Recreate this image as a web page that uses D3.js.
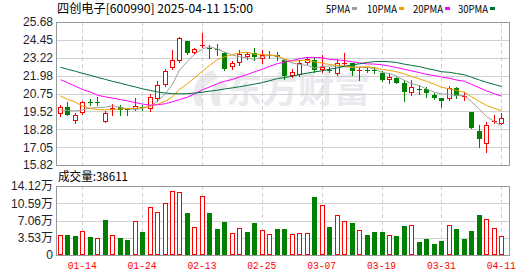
<!DOCTYPE html>
<html>
<head>
<meta charset="utf-8">
<script src="https://cdn.jsdelivr.net/npm/d3@7"></script>
<style>
  html, body { margin: 0; padding: 0; background: #fff; }
  svg { display: block; }
  text { font-family: "Liberation Sans", Arial, "Noto Sans CJK SC", sans-serif; }
</style>
</head>
<body>
<svg id="chart" width="530" height="276"></svg>
<script>
/* ---------- data ---------- */
const dates = ["01-09","01-10","01-13","01-14","01-15","01-16","01-17","01-20","01-21","01-22",
  "01-23","01-24","01-27","02-05","02-06","02-07","02-10","02-11","02-12","02-13",
  "02-14","02-17","02-18","02-19","02-20","02-21","02-24","02-25","02-26","02-27",
  "02-28","03-03","03-04","03-05","03-06","03-07","03-10","03-11","03-12","03-13",
  "03-14","03-17","03-18","03-19","03-20","03-21","03-24","03-25","03-26","03-27",
  "03-28","03-31","04-01","04-02","04-03","04-07","04-08","04-09","04-10","04-11"];

const open = [19.34,19.85,18.85,19.43,20.16,20.17,18.81,19.66,19.84,19.65,
  19.70,19.80,19.70,20.35,21.32,22.51,23.01,24.35,23.52,24.03,
  23.90,23.80,23.54,22.60,22.87,23.29,23.54,23.15,23.35,23.40,
  23.08,21.98,22.05,22.87,23.06,22.40,22.40,22.10,22.78,22.87,
  22.32,22.40,22.38,22.19,21.68,21.80,21.45,20.76,21.05,21.05,
  20.65,20.42,20.35,21.11,20.52,19.47,18.18,17.25,18.80,18.63];
const high = [19.96,20.15,19.39,20.21,20.39,20.49,19.53,20.00,19.94,19.75,
  20.45,19.95,20.75,21.59,22.46,23.75,24.68,24.39,23.90,24.92,
  24.07,24.16,23.61,23.01,23.75,23.61,23.89,23.75,23.66,23.61,
  23.10,22.46,23.03,23.30,23.28,23.40,22.55,23.10,23.52,22.87,
  22.55,22.55,22.60,22.30,22.15,21.91,21.68,21.68,21.34,21.18,
  20.80,20.45,21.25,21.18,20.88,19.50,18.58,18.76,19.27,19.43];
const low = [19.20,19.25,18.74,19.34,19.97,19.94,18.81,19.30,19.25,19.25,
  19.63,19.60,19.55,20.25,21.25,22.46,22.95,23.47,23.47,23.95,
  23.20,23.38,22.40,22.42,22.74,23.15,23.08,22.87,23.20,23.05,
  21.77,21.90,21.95,22.78,22.25,22.25,22.22,22.03,22.72,22.03,
  21.68,22.25,22.15,21.60,21.50,21.45,20.25,20.65,20.72,20.49,
  20.35,19.80,20.30,20.42,20.30,18.38,17.04,16.70,18.70,18.63];
const close = [19.84,19.30,19.27,20.14,20.10,20.13,19.39,19.76,19.61,19.58,
  19.92,19.76,20.49,21.32,22.32,23.08,24.58,23.54,23.80,24.10,
  23.86,23.76,22.46,22.83,23.47,23.44,23.29,23.38,23.40,23.30,
  21.94,22.23,22.86,23.10,22.37,22.55,22.36,22.83,22.85,22.32,
  22.37,22.35,22.30,21.68,21.91,21.50,20.88,21.18,20.96,20.76,
  20.42,20.25,21.11,20.60,20.56,18.40,17.61,18.58,18.85,19.04];
const volume = [40300,40000,38200,48500,36200,35400,71600,40300,34800,30700,
  68900,47100,97600,87400,105800,130300,128300,85900,56700,120700,
  85900,53200,67500,44400,54600,47100,65500,50500,42400,53200,
  53200,42400,44400,44400,118700,102300,57300,81200,68900,65500,
  50500,40900,47100,47100,40300,38900,59300,60800,26600,32100,
  22500,28600,60800,52600,32100,48500,81800,73000,54600,38611];

const ma5 = [19.62,19.58,19.55,19.62,19.74,19.79,19.81,19.91,19.80,19.69,
  19.65,19.73,19.87,20.21,20.76,21.39,22.36,22.97,23.46,23.82,
  23.98,23.81,23.60,23.40,23.28,23.20,23.10,23.29,23.40,23.37,
  23.06,22.85,22.75,22.69,22.50,22.62,22.65,22.64,22.59,22.58,
  22.55,22.54,22.44,22.20,22.12,21.95,21.65,21.43,21.29,21.06,
  20.84,20.71,20.70,20.62,20.60,20.19,19.66,19.16,18.81,18.50];
const ma10 = [20.58,20.35,20.15,19.88,19.72,19.64,19.62,19.65,19.68,19.71,
  19.72,19.77,19.89,20.01,20.23,20.52,21.04,21.42,21.84,22.29,
  22.69,23.09,23.28,23.43,23.55,23.59,23.46,23.44,23.40,23.32,
  23.13,22.98,23.02,23.04,22.93,22.84,22.75,22.69,22.64,22.54,
  22.58,22.60,22.54,22.40,22.35,22.25,22.10,21.93,21.75,21.59,
  21.39,21.18,21.07,20.96,20.83,20.52,20.19,19.93,19.72,19.55];
const ma20 = [21.70,21.50,21.25,21.02,20.85,20.63,20.52,20.43,20.33,20.24,
  20.12,20.02,19.95,19.97,20.05,20.18,20.33,20.50,20.72,21.00,
  21.20,21.43,21.59,21.72,21.89,22.06,22.25,22.43,22.62,22.81,
  22.91,23.03,23.15,23.24,23.24,23.21,23.10,23.07,23.02,22.93,
  22.86,22.79,22.78,22.72,22.64,22.54,22.42,22.31,22.19,22.07,
  21.99,21.89,21.80,21.68,21.59,21.38,21.14,20.93,20.73,20.57];
const ma30 = [22.56,22.42,22.28,22.14,22.00,21.86,21.72,21.59,21.46,21.33,
  21.20,21.07,20.96,20.86,20.78,20.74,20.73,20.74,20.78,20.84,
  20.91,20.98,21.06,21.14,21.22,21.31,21.40,21.50,21.63,21.78,
  21.85,21.94,22.06,22.16,22.24,22.32,22.42,22.52,22.63,22.72,
  22.80,22.89,22.95,22.96,22.94,22.89,22.77,22.69,22.60,22.48,
  22.37,22.25,22.21,22.13,22.04,21.87,21.68,21.52,21.37,21.23];

const priceTicks = [25.68, 24.45, 23.22, 21.98, 20.75, 19.52, 18.28, 17.05, 15.82];
const volTicks = [0, 35300, 70600, 105900, 141200];
const volTickLabels = ["0", "3.53万", "7.06万", "10.59万", "14.12万"];
const dateTicks = ["01-14","01-24","02-13","02-25","03-07","03-19","03-31","04-11"];
const maNames = ["5PMA", "10PMA", "20PMA", "30PMA"];
const maColors = ["#a0a0a0", "#f0a000", "#ff00ff", "#00703a"];

/* ---------- layout ---------- */
const L = 56, R = 509, pTop = 22, pBot = 165, vTop = 186, vBot = 255;
const UP = "#ff0000", DOWN = "#008000", GRID = "#d0d0d0", FRAME = "#999";

const svg = d3.select("#chart");
const x = d3.scaleBand().domain(d3.range(dates.length)).range([L, 505]);
const cx = i => Math.round(x(i) + x.bandwidth() / 2);
const yP = d3.scaleLinear().domain([15.82, 25.68]).range([pBot, pTop]);
const yV = d3.scaleLinear().domain([0, 141200]).range([vBot, vTop]);
const tickIdx = dateTicks.map(d => dates.indexOf(d));

/* watermark */
const wm = svg.append("g").attr("fill", "#e9e9ee");
wm.append("path")
  .attr("d", "M213,70 C196,76 190,90 196,106 L204,106 C199,94 204,84 218,78 Z M222,80 C210,86 208,96 214,106 L221,106 C218,98 220,90 228,86 Z");
wm.append("text").attr("x", 226).attr("y", 103)
  .style("font-family", "'Noto Sans CJK SC', sans-serif")
  .style("font-size", "36px").style("font-weight", "bold")
  .text("东方财富");

/* grids */
function grid(top, bot, yScale, ticks) {
  const g = svg.append("g");
  g.selectAll(".h").data(ticks.slice(1, -1)).enter().append("line")
    .attr("x1", L).attr("x2", R)
    .attr("y1", d => Math.round(yScale(d)) + 0.5).attr("y2", d => Math.round(yScale(d)) + 0.5)
    .attr("stroke", GRID);
  g.selectAll(".v").data(tickIdx).enter().append("line")
    .attr("x1", i => cx(i) + 0.5).attr("x2", i => cx(i) + 0.5)
    .attr("y1", top).attr("y2", bot)
    .attr("stroke", GRID).attr("stroke-dasharray", "4,3");
}
grid(pTop, pBot, yP, priceTicks);
grid(vTop, vBot, yV, volTicks.slice().reverse());

/* frames */
[[pTop, pBot], [vTop, vBot]].forEach(([t, b]) => {
  svg.append("rect").attr("x", L + 0.5).attr("y", t + 0.5)
    .attr("width", R - L).attr("height", b - t)
    .attr("fill", "none").attr("stroke", FRAME);
});

/* axes */
const axP = svg.append("g").attr("transform", `translate(${L},0)`)
  .call(d3.axisLeft(yP).tickValues(priceTicks).tickSize(0).tickPadding(3).tickFormat(d3.format(".2f")));
const axV = svg.append("g").attr("transform", `translate(${L},0)`)
  .call(d3.axisLeft(yV).tickValues(volTicks).tickSize(0).tickPadding(3)
    .tickFormat((d, i) => volTickLabels[i]));
const axD = svg.append("g").attr("transform", `translate(0,${vBot})`)
  .call(d3.axisBottom(x).tickValues(tickIdx).tickSize(0).tickPadding(6).tickFormat(i => dates[i]));
[axP, axV, axD].forEach(a => { a.select(".domain").remove(); });
[axP, axV].forEach(a => a.selectAll("text").attr("fill", "#1e1e2e").style("font-size", "12px"));
axD.selectAll("text").attr("fill", UP)
  .style("font-family", "'Liberation Mono', monospace").style("font-size", "11px")
  .attr("textLength", 29).attr("lengthAdjust", "spacingAndGlyphs");

/* candles */
const cg = svg.append("g");
d3.range(dates.length).forEach(i => {
  const up = close[i] >= open[i];
  const col = up ? UP : DOWN;
  const c = cx(i);
  cg.append("line").attr("x1", c + 0.5).attr("x2", c + 0.5)
    .attr("y1", Math.round(yP(high[i]))).attr("y2", Math.round(yP(low[i])) + 1)
    .attr("stroke", col);
  const top = Math.round(yP(Math.max(open[i], close[i])));
  const bot = Math.round(yP(Math.min(open[i], close[i])));
  if (up && bot - top >= 2) {
    cg.append("rect").attr("x", c - 1.5).attr("y", top + 0.5)
      .attr("width", 4).attr("height", bot - top - 1)
      .attr("fill", "#fff").attr("stroke", col);
  } else {
    cg.append("rect").attr("x", c - 2).attr("y", top)
      .attr("width", 5).attr("height", Math.max(bot - top, 1))
      .attr("fill", col);
  }
});

/* moving averages */
svg.append("clipPath").attr("id", "pclip").append("rect")
  .attr("x", L + 1).attr("y", pTop + 1).attr("width", R - L - 1).attr("height", pBot - pTop - 1);
const line = d3.line().x((d, i) => cx(i) + 0.5).y(d => yP(d));
[ma5, ma10, ma20, ma30].forEach((s, k) => {
  svg.append("path").datum(s).attr("d", line)
    .attr("fill", "none").attr("stroke", maColors[k]).attr("stroke-width", 1)
    .attr("clip-path", "url(#pclip)");
});

/* volume bars: colour by close vs previous close */
const vg = svg.append("g");
volume.forEach((v, i) => {
  const ref = i === 0 ? open[0] : close[i - 1];
  const up = close[i] >= ref;
  const c = cx(i);
  const top = Math.round(yV(v));
  if (up) {
    vg.append("rect").attr("x", c - 1.5).attr("y", top + 0.5)
      .attr("width", 4).attr("height", vBot - top - 1)
      .attr("fill", "#fff").attr("stroke", UP);
  } else {
    vg.append("rect").attr("x", c - 2).attr("y", top)
      .attr("width", 5).attr("height", vBot - top)
      .attr("fill", DOWN);
  }
});

/* header texts */
svg.append("text").attr("x", 57).attr("y", 13)
  .style("font-family", "'Noto Sans CJK SC', sans-serif").style("font-size", "12px")
  .attr("textLength", 196).attr("lengthAdjust", "spacingAndGlyphs")
  .text("四创电子[600990] 2025-04-11 15:00");

const legendX = [326, 367, 413, 458];
maNames.forEach((n, k) => {
  const w = n.length * 6;
  svg.append("text").attr("x", legendX[k]).attr("y", 12.5)
    .style("font-family", "'Noto Sans CJK SC', sans-serif").style("font-size", "11px")
    .attr("textLength", w).attr("lengthAdjust", "spacingAndGlyphs")
    .text(n);
  svg.append("rect").attr("x", legendX[k] + w + 2).attr("y", 7)
    .attr("width", 5).attr("height", 3).attr("fill", maColors[k]);
});

svg.append("text").attr("x", 58).attr("y", 181)
  .style("font-family", "'Noto Sans CJK SC', sans-serif").style("font-size", "12px")
  .attr("textLength", 70).attr("lengthAdjust", "spacingAndGlyphs")
  .text("成交量:" + volume[volume.length - 1]);
</script>
</body>
</html>
